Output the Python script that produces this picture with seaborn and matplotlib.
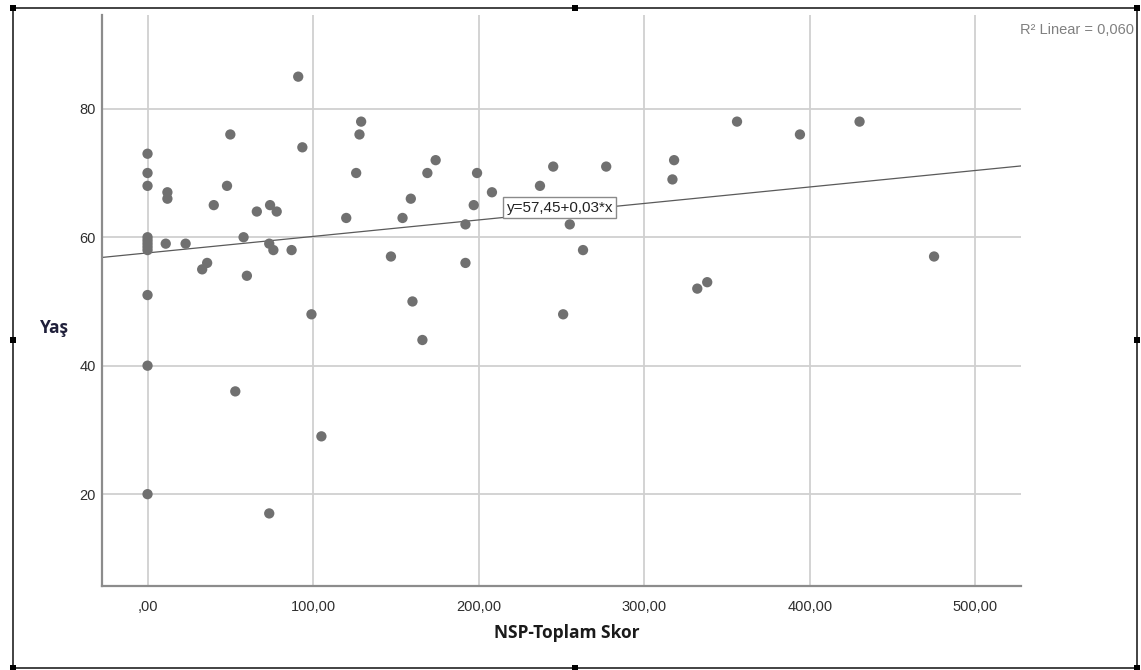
import numpy as np
import pandas as pd
import matplotlib
matplotlib.use("Agg")
import matplotlib.pyplot as plt
from matplotlib.patches import Rectangle
from matplotlib.ticker import FuncFormatter, FixedLocator
import seaborn as sns

# ---- data ----
nsp_skor = [0, 0, 0, 0, 0, 0, 0, 0, 0, 0, 0,
            12, 12, 11, 23, 33, 36, 40, 48, 50, 58, 60, 66, 74, 78, 73.5, 76, 87, 91, 93.5, 120,
            53, 99, 105, 73.5,
            129, 128, 126, 147, 154, 159, 160, 166, 169, 174, 192, 192, 197, 199, 208, 237, 245,
            255, 263, 251, 277,
            356, 394, 430, 318, 317, 332, 338, 475]
yas = [73, 70, 68, 60, 59.5, 59, 58.5, 58, 51, 40, 20,
       67, 66, 59, 59, 55, 56, 65, 68, 76, 60, 54, 64, 65, 64, 59, 58, 58, 85, 74, 63,
       36, 48, 29, 17,
       78, 76, 70, 57, 63, 66, 50, 44, 70, 72, 62, 56, 65, 70, 67, 68, 71, 62, 58, 48, 71,
       78, 76, 78, 72, 69, 52, 53, 57]
x_ticks = [0, 100, 200, 300, 400, 500]
y_ticks = [20, 40, 60, 80]
x_label = "NSP-Toplam Skor"
y_label = "Yaş"
fit_label = "y=57,45+0,03*x"
r2_label = "R² Linear = 0,060"

df = pd.DataFrame({"NSP": nsp_skor, "Yas": yas})

sns.set_theme(style="white")
plt.rcParams["font.family"] = ["Liberation Sans", "DejaVu Sans"]

W, H = 1141, 670
fig = plt.figure(figsize=(W / 100, H / 100), dpi=100)
fig.patch.set_facecolor("white")

ax = fig.add_axes([101.5 / W, 1 - 586 / H, (1021 - 101.5) / W, (586 - 15) / H])
ax.set_facecolor("white")
ax.set_xlim(-27.8, 527.5)
ax.set_ylim(5.7, 94.6)

ax.xaxis.set_major_locator(FixedLocator(x_ticks))
ax.yaxis.set_major_locator(FixedLocator(y_ticks))
ax.grid(True, color="#d0d0d0", linewidth=1.3, zorder=0)
ax.set_axisbelow(True)

sns.scatterplot(data=df, x="NSP", y="Yas", ax=ax, color="#707070", s=55,
                edgecolor="none", linewidth=0, zorder=3)
sns.regplot(data=df, x="NSP", y="Yas", ax=ax, scatter=False, ci=None, truncate=False,
            line_kws={"color": "#5a5a5a", "linewidth": 0.9, "zorder": 2})
ax.set_xlim(-27.8, 527.5)
ax.set_ylim(5.7, 94.6)

def fmt_x(v, pos):
    s = f"{v:.2f}".replace(".", ",")
    if s.startswith("0,"):
        s = s[1:]
    return s

ax.xaxis.set_major_formatter(FuncFormatter(fmt_x))
ax.yaxis.set_major_formatter(FuncFormatter(lambda v, p: f"{int(v)}"))
ax.tick_params(axis="both", length=0, labelsize=10.5, labelcolor="#2e2e2e")
ax.tick_params(axis="x", pad=10)
ax.tick_params(axis="y", pad=4)

for side in ["top", "right"]:
    ax.spines[side].set_visible(False)
for side in ["left", "bottom"]:
    ax.spines[side].set_color("#8c8c8c")
    ax.spines[side].set_linewidth(1.6)

ax.set_xlabel("")
ax.set_ylabel("")

# fit label box
ax.text(249, 64.6, fit_label, ha="center", va="center", fontsize=11, color="#222222",
        zorder=5,
        bbox=dict(boxstyle="square,pad=0.22", facecolor="white", edgecolor="#8a8a8a",
                  linewidth=1.0))

# axis titles
fig.text(54 / W, 1 - 328 / H, y_label, ha="center", va="center", fontsize=12.5,
         fontweight="bold", color="#1f1f3a", family=["Open Sans", "DejaVu Sans"])
fig.text(567 / W, 1 - 633 / H, x_label, ha="center", va="center", fontsize=12.5,
         fontweight="bold", color="#1a1a1a", family=["Open Sans", "DejaVu Sans"])

# R2 annotation
fig.text(1134 / W, 1 - 30 / H, r2_label, ha="right", va="center", fontsize=10.5,
         color="#808080")

# outer selection frame with handles
fx0, fx1 = 13 / W, 1137 / W
fy0, fy1 = 1 - 668 / H, 1 - 8 / H
fig.add_artist(Rectangle((fx0, fy0), fx1 - fx0, fy1 - fy0, transform=fig.transFigure,
                         fill=False, edgecolor="#222222", linewidth=1.2))
hw, hh = 6 / W, 6 / H
for hx in (13, 575, 1137):
    for hy in (8, 668):
        fig.add_artist(Rectangle((hx / W - hw / 2, 1 - hy / H - hh / 2), hw, hh,
                                 transform=fig.transFigure, facecolor="black",
                                 edgecolor="none"))
for hx in (13, 1137):
    fig.add_artist(Rectangle((hx / W - hw / 2, 1 - 340 / H - hh / 2), hw, hh,
                             transform=fig.transFigure, facecolor="black",
                             edgecolor="none"))

fig.savefig("out.png", dpi=100, facecolor="white")
